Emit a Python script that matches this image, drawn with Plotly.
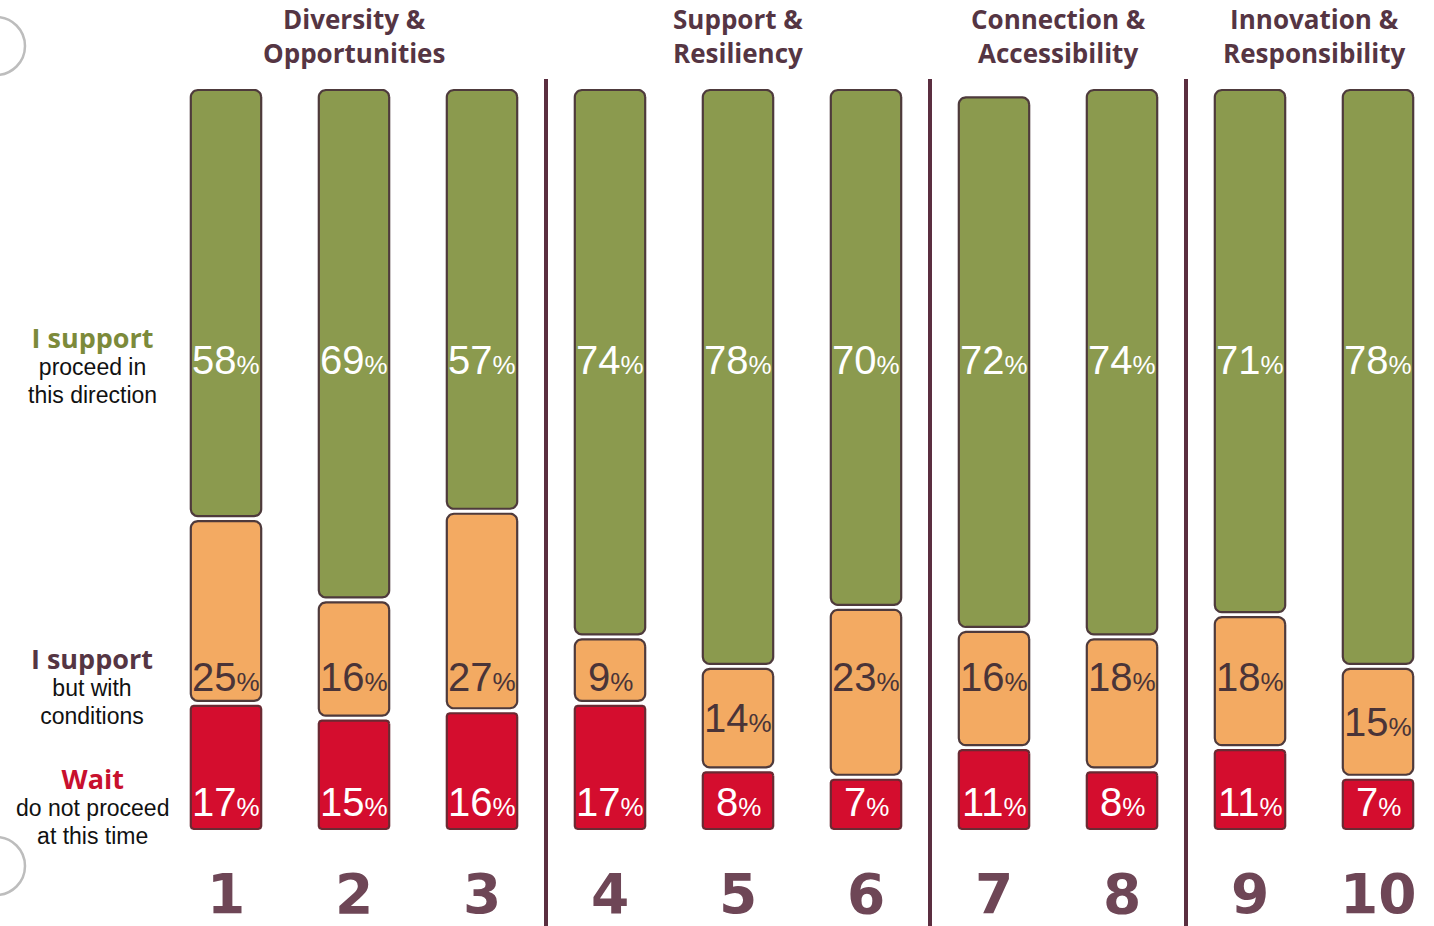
import numpy as np
import plotly.graph_objects as go

# ---- data -------------------------------------------------------------
categories = ["1", "2", "3", "4", "5", "6", "7", "8", "9", "10"]
wait_pct = [17, 15, 16, 17, 8, 7, 11, 8, 11, 7]
conditions_pct = [25, 16, 27, 9, 14, 23, 16, 18, 18, 15]
support_pct = [58, 69, 57, 74, 78, 70, 72, 74, 71, 78]

group_titles = [
    ["Diversity &", "Opportunities"],
    ["Support &", "Resiliency"],
    ["Connection &", "Accessibility"],
    ["Innovation &", "Responsibility"],
]
group_members = [[1, 2, 3], [4, 5, 6], [7, 8], [9, 10]]

legend_heads = ["I support", "I support", "Wait"]
legend_notes = [["proceed in", "this direction"],
                ["but with", "conditions"],
                ["do not proceed", "at this time"]]

# ---- styling ----------------------------------------------------------
W, H = 1434, 926
X_RANGE = [1 - 226 / 128, 1 + (W - 226) / 128]
Y_RANGE = [-(926 - 829) / 7.39, 100 + 90 / 7.39]
PX_PER_X = W / (X_RANGE[1] - X_RANGE[0])
PX_PER_Y = H / (Y_RANGE[1] - Y_RANGE[0])

GREEN = "#8B9A4E"
ORANGE = "#F3AA62"
RED = "#D40D2E"
EDGE = "#4E3A3C"
RED_EDGE = "#6A2A33"
DARK_TEXT = "#4A3438"
MAROON = "#553543"
NUM_COLOR = "#6E4656"
DIVIDER = "#5B2E40"

BAR_HALF = 0.275
GAP = 5 / PX_PER_Y


def rounded_rect(xc, y0, y1, r_px, n=8):
    rx = r_px / PX_PER_X
    ry = min(r_px / PX_PER_Y, (y1 - y0) / 2)
    xl, xr = xc - BAR_HALF, xc + BAR_HALF
    xs, ys = [], []
    for cx, cy, a0 in [(xr - rx, y1 - ry, 0), (xl + rx, y1 - ry, 90),
                       (xl + rx, y0 + ry, 180), (xr - rx, y0 + ry, 270)]:
        t = np.radians(np.linspace(a0, a0 + 90, n))
        xs.extend(cx + rx * np.cos(t))
        ys.extend(cy + ry * np.sin(t))
    xs.append(xs[0])
    ys.append(ys[0])
    return xs, ys


fig = go.Figure()

series = [
    ("Wait", wait_pct, RED, RED_EDGE, 3),
    ("I support but with conditions", conditions_pct, ORANGE, EDGE, 7),
    ("I support", support_pct, GREEN, EDGE, 7),
]

bases = [0.0] * len(categories)
seg_bounds = {}
for k, (name, vals, fill, edge, rad) in enumerate(series):
    xs_all, ys_all = [], []
    for i, v in enumerate(vals):
        lo = bases[i]
        hi = lo + v
        y0 = lo + (GAP / 2 if k > 0 else 0)
        y1 = hi - (GAP / 2 if k < len(series) - 1 else 0)
        xs, ys = rounded_rect(i + 1, y0, y1, rad)
        xs_all += xs + [None]
        ys_all += ys + [None]
        seg_bounds[(k, i)] = (lo, hi)
        bases[i] = hi
    fig.add_trace(go.Scatter(
        x=xs_all, y=ys_all, mode="lines", fill="toself",
        fillcolor=fill, line=dict(color=edge, width=2.2),
        name=name, hoverinfo="name", showlegend=False,
    ))

# ---- value labels -----------------------------------------------------
def pct_text(v):
    return f"{v}<span style='font-size:26px'>%</span>"

annotations = []
for i in range(len(categories)):
    x = i + 1
    # wait
    annotations.append(dict(x=x, y=3.6, text=pct_text(wait_pct[i]),
                            font=dict(color="white", size=40)))
    # conditions
    lo, hi = seg_bounds[(1, i)]
    yc = 20.6 if hi >= 24 else (lo + hi) / 2
    annotations.append(dict(x=x, y=yc, text=pct_text(conditions_pct[i]),
                            font=dict(color=DARK_TEXT, size=40)))
    # support
    annotations.append(dict(x=x, y=63.5, text=pct_text(support_pct[i]),
                            font=dict(color="white", size=40)))
    # bar number
    annotations.append(dict(x=x, y=1 - 894 / H, yref="paper",
                            text=f"<b>{categories[i]}</b>",
                            font=dict(color=NUM_COLOR, size=55, family="DejaVu Sans")))

for a in annotations:
    a.setdefault("yref", "y")
    a.update(xref="x", showarrow=False, xanchor="center", yanchor="middle")
    a["font"].setdefault("family", "Liberation Sans")

# ---- group headers (two lines each) -----------------------------------
for title, members in zip(group_titles, group_members):
    xc = float(np.mean(members))
    text = "<br>".join(f"<span style='font-size:26px'><b>{t}</b></span>" for t in title)
    annotations.append(dict(
        x=xc, xref="x", y=1 - 36 / H, yref="paper",
        text=text, showarrow=False,
        xanchor="center", yanchor="middle",
        font=dict(family="Open Sans", size=26, color=MAROON)))

# ---- left legend labels -----------------------------------------------
legend_colors = ["#7C8A3A", MAROON, "#C8102E"]
legend_centers = [363, 684, 804]
for head, notes, col, ypx in zip(legend_heads, legend_notes, legend_colors, legend_centers):
    text = (f"<span style='font-family:Open Sans;font-size:27px;color:{col}'><b>{head}</b></span>"
            + "".join(f"<br><span style='font-size:23px'>{n}</span>" for n in notes))
    annotations.append(dict(
        x=92 / W, xref="paper", y=1 - ypx / H, yref="paper", text=text,
        showarrow=False, xanchor="center", yanchor="middle",
        font=dict(family="Liberation Sans", size=21, color="#111111")))

# ---- group dividers and binder holes ----------------------------------
shapes = []
for members in group_members[:-1]:
    xd = members[-1] + 0.5
    shapes.append(dict(type="line", xref="x", yref="y", x0=xd, x1=xd,
                       y0=Y_RANGE[0] - 1, y1=(829 - 79) / 7.39,
                       line=dict(color=DIVIDER, width=4)))
for cy in [46, 866]:
    r = 29
    shapes.append(dict(type="circle", xref="paper", yref="paper",
                       x0=(-4 - r) / W, x1=(-4 + r) / W,
                       y0=1 - (cy + r) / H, y1=1 - (cy - r) / H,
                       line=dict(color="#BDBDBD", width=2.5)))

fig.update_layout(
    width=W, height=H, autosize=False,
    margin=dict(l=0, r=0, t=0, b=0),
    paper_bgcolor="white", plot_bgcolor="white",
    xaxis=dict(range=X_RANGE, visible=False, fixedrange=True),
    yaxis=dict(range=Y_RANGE, visible=False, fixedrange=True),
    annotations=annotations, shapes=shapes,
    showlegend=False,
)

fig.write_html("out.html")
